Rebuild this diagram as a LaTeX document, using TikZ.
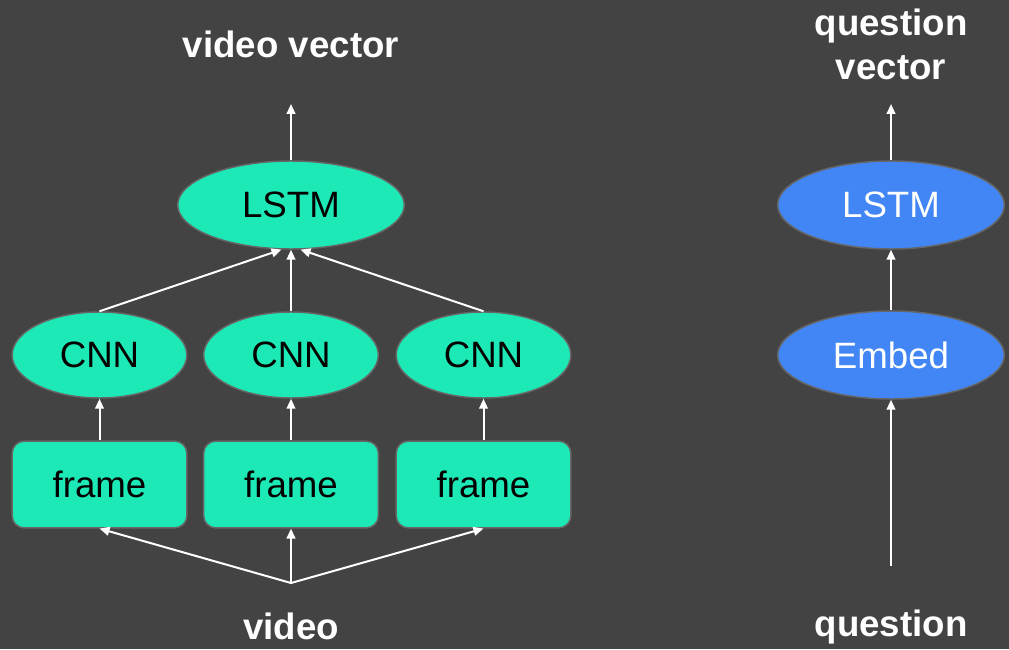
\documentclass[tikz,border=0pt]{standalone}
\usepackage{fontspec}
\setmainfont{Liberation Sans}
\usetikzlibrary{shapes.geometric,arrows.meta}
\definecolor{bg}{HTML}{434343}
\definecolor{teal}{HTML}{1DE9B6}
\definecolor{qblue}{HTML}{4285F4}
\definecolor{edge}{HTML}{666666}
\begin{document}
\begin{tikzpicture}[x=0.75pt,y=-0.75pt,
  base/.style={draw=edge,line width=1.1pt,font=\fontsize{27.5}{32}\selectfont,inner sep=0pt},
  lstmnode/.style={base,ellipse,minimum width=170pt,minimum height=66pt},
  cnnnode/.style={base,ellipse,fill=teal,minimum width=131pt,minimum height=64.5pt},
  framenode/.style={base,rectangle,rounded corners=9pt,fill=teal,minimum width=131pt,minimum height=65pt},
  label/.style={text=white,font=\fontsize{27.5}{33}\selectfont\bfseries,align=center,inner sep=0pt},
  link/.style={draw=white,line width=1.5pt,-{Triangle[length=7.5pt,width=6.5pt]}}]
  \fill[bg] (0,0) rectangle (1009,649);
  \useasboundingbox (0,0) rectangle (1009,649);

  % video branch
  \node[lstmnode,fill=teal] (vlstm) at (291,205) {LSTM};
  \node[cnnnode] (cnn1) at (99.5,355) {CNN};
  \node[cnnnode] (cnn2) at (291,355) {CNN};
  \node[cnnnode] (cnn3) at (483.5,355) {CNN};
  \node[framenode] (fr1) at (99.5,484.5) {\raisebox{-2pt}{frame}};
  \node[framenode] (fr2) at (291,484.5) {\raisebox{-2pt}{frame}};
  \node[framenode] (fr3) at (483.5,484.5) {\raisebox{-2pt}{frame}};
  \coordinate (vsrc) at (291,583);
  \coordinate (vout) at (291,104);
  \node[label] (vtxt) at (291,626) {video};
  \node[label] (vvec) at (291,44) {video vector};

  \draw[link] (vsrc) -- (fr1.south);
  \draw[link] (vsrc) -- (fr2.south);
  \draw[link] (vsrc) -- (fr3.south);
  \draw[link] (fr1.north) -- (cnn1.south);
  \draw[link] (fr2.north) -- (cnn2.south);
  \draw[link] (fr3.north) -- (cnn3.south);
  \draw[link] (cnn1.north) -- (vlstm.-102);
  \draw[link] (cnn2.north) -- (vlstm.south);
  \draw[link] (cnn3.north) -- (vlstm.-78);
  \draw[link] (vlstm.north) -- (vout);

  % question branch
  \node[lstmnode,fill=qblue,text=white] (qlstm) at (891,205) {LSTM};
  \node[lstmnode,fill=qblue,text=white] (qemb) at (891,355) {Embed};
  \coordinate (qsrc) at (891,566);
  \coordinate (qout) at (891,104);
  \node[label] (qtxt) at (891,627) {question};
  \node[label] (qvec) at (891,44) {question\\vector};

  \draw[link] (qsrc) -- (qemb.south);
  \draw[link] (qemb.north) -- (qlstm.south);
  \draw[link] (qlstm.north) -- (qout);
\end{tikzpicture}
\end{document}
